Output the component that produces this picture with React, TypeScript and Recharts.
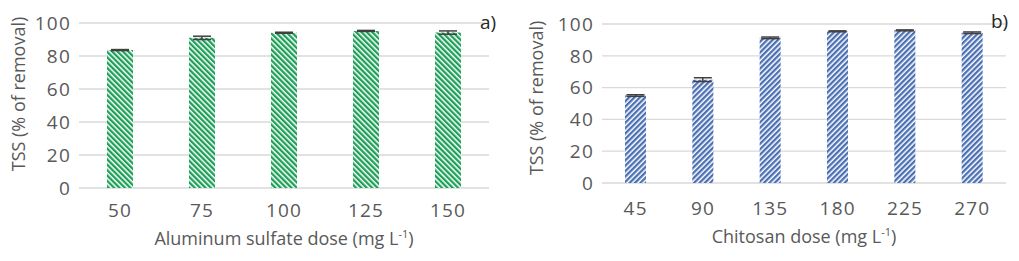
import { BarChart, Bar, XAxis, YAxis, CartesianGrid, ErrorBar } from 'recharts'

const FONT = '"Open Sans", "Noto Sans", sans-serif'
const INK = '#595959'

// a) aluminium sulfate
const alumDoses = ['50', '75', '100', '125', '150']
const alumTss = [83.6, 91, 94.1, 95.2, 94.2]
const alumErr = [0.3, 1, 0.3, 0.3, 1]

// b) chitosan
const chitoDoses = ['45', '90', '135', '180', '225', '270']
const chitoTss = [55, 65, 91.3, 95.4, 96, 94.5]
const chitoErr = [0.5, 1.2, 0.5, 0.3, 0.3, 0.5]

const yTicks = [0, 20, 40, 60, 80, 100]

type PanelProps = {
  width: number
  height: number
  doses: string[]
  values: number[]
  errs: number[]
  color: string
  angle: number
  patternId: string
  barSize: number
  margin: { top: number; right: number; left: number; bottom: number }
  yWidth: number
  xHeight: number
  xTickMargin: number
  xTitle: string
  yTitle: { dx: number; cy: number }
  xTitleDy: number
  tag: string
  tagPos: { left: number; top: number }
}

const tickStyle = { fill: INK, fontSize: 19, fontFamily: FONT, letterSpacing: 1.2 }

function Panel(p: PanelProps) {
  const data = p.doses.map((d, i) => ({ dose: d, tss: p.values[i], err: p.errs[i] }))

  return (
    <div style={{ position: 'relative', width: p.width, height: p.height }}>
      <BarChart width={p.width} height={p.height} data={data} margin={p.margin} barCategoryGap={0}>
        <defs>
          <pattern
            id={p.patternId}
            patternUnits="userSpaceOnUse"
            width={3.8}
            height={3.8}
            patternTransform={`rotate(${p.angle})`}
          >
            <rect x={0} y={0} width={3.8} height={3.8} fill="#ffffff" />
            <rect x={0} y={0} width={2.3} height={3.8} fill={p.color} />
          </pattern>
        </defs>
        <CartesianGrid vertical={false} stroke="#d9d9d9" strokeWidth={1.3} />
        <XAxis
          dataKey="dose"
          axisLine={false}
          tickLine={false}
          height={p.xHeight}
          tickMargin={p.xTickMargin}
          tick={tickStyle}
          label={{
            content: (props: any) => {
              const vb = props.viewBox
              return (
                <text
                  x={vb.x + vb.width / 2}
                  y={vb.y + p.xTitleDy}
                  textAnchor="middle"
                  fill={INK}
                  fontSize={18}
                  fontFamily={FONT}
                >
                  {p.xTitle}
                  <tspan dy={-7} fontSize={11}>-1</tspan>
                  <tspan dy={7}>)</tspan>
                </text>
              )
            },
          }}
        />
        <YAxis
          domain={[0, 100]}
          ticks={yTicks}
          interval={0}
          axisLine={false}
          tickLine={false}
          width={p.yWidth}
          tickMargin={2}
          tick={tickStyle}
          label={{
            content: () => (
              <text
                x={p.yTitle.dx}
                y={p.yTitle.cy}
                transform={`rotate(-90 ${p.yTitle.dx} ${p.yTitle.cy})`}
                textAnchor="middle"
                dominantBaseline="central"
                fill={INK}
                fontSize={18}
                fontFamily={FONT}
              >
                TSS (% of removal)
              </text>
            ),
          }}
        />
        <Bar dataKey="tss" fill={`url(#${p.patternId})`} barSize={p.barSize} isAnimationActive={false}>
          <ErrorBar dataKey="err" width={9} stroke="#404040" strokeWidth={1.5} />
        </Bar>
      </BarChart>
      <div
        style={{
          position: 'absolute',
          left: p.tagPos.left,
          top: p.tagPos.top,
          fontFamily: FONT,
          fontSize: 19,
          color: '#262626',
          lineHeight: 1,
        }}
      >
        {p.tag}
      </div>
    </div>
  )
}

export default function App() {
  return (
    <div
      style={{
        position: 'absolute',
        left: 0,
        top: 0,
        width: 1019,
        height: 261,
        background: '#ffffff',
        display: 'flex',
      }}
    >
      <Panel
        width={510}
        height={261}
        doses={alumDoses}
        values={alumTss}
        errs={alumErr}
        color="#1c9f57"
        angle={-45}
        patternId="hatchGreen"
        barSize={26}
        margin={{ top: 23, right: 21, left: 0, bottom: 0 }}
        yWidth={79}
        xHeight={73}
        xTickMargin={10}
        xTitle="Aluminum sulfate dose (mg L"
        xTitleDy={57}
        yTitle={{ dx: 18, cy: 94 }}
        tag="a)"
        tagPos={{ left: 480, top: 13 }}
      />
      <Panel
        width={509}
        height={261}
        doses={chitoDoses}
        values={chitoTss}
        errs={chitoErr}
        color="#4a6fb3"
        angle={45}
        patternId="hatchBlue"
        barSize={21}
        margin={{ top: 24, right: 13, left: 0, bottom: 0 }}
        yWidth={92}
        xHeight={78}
        xTickMargin={13}
        xTitle="Chitosan dose (mg L"
        xTitleDy={60}
        yTitle={{ dx: 26, cy: 98 }}
        tag="b)"
        tagPos={{ left: 481, top: 12 }}
      />
    </div>
  )
}
